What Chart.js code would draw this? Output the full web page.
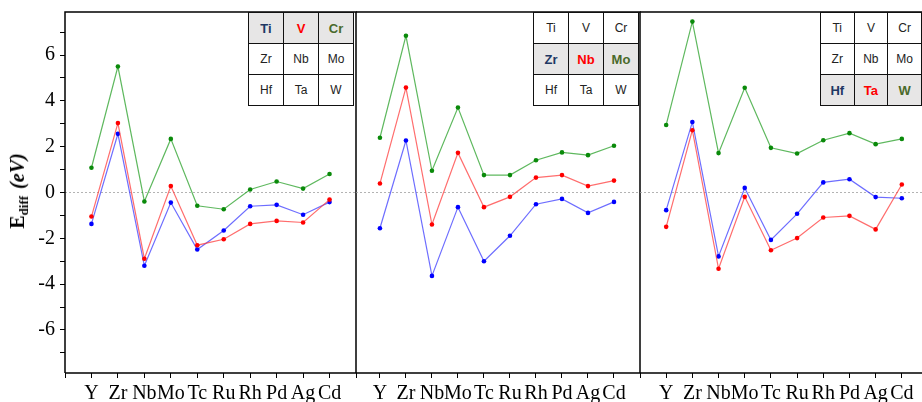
<!DOCTYPE html>
<html>
<head>
<meta charset="utf-8">
<script src="https://cdn.jsdelivr.net/npm/chart.js@4.4.1/dist/chart.umd.min.js"></script>
<style>
  html, body { margin: 0; padding: 0; background: #fff; overflow: hidden; width: 922px; height: 402px; }
  canvas { position: absolute; left: 0; top: 0; }
  .ytitle {
    position: absolute; left: 19px; top: 191px;
    transform: translate(-50%, -50%) rotate(-90deg);
    font-family: "Liberation Serif", serif; font-weight: bold; font-size: 20px;
    white-space: nowrap; color: #000;
  }
  .ytitle sub { font-size: 13px; vertical-align: -4px; }
  .ytitle i { margin-left: 7px; }
  table.inset {
    position: absolute; top: 12px; border-collapse: collapse; background: #fff;
    font-family: "Liberation Sans", Arial, sans-serif; font-size: 12px;
  }
  table.inset td {
    width: 34px; height: 30px; border: 1.5px solid #111; text-align: center; padding: 0; color: #222;
  }
  table.inset tr.hl td { background: #e7e6e6; font-weight: bold; font-size: 13px; }
</style>
</head>
<body>
<canvas id="c1" width="940" height="402"></canvas>
<canvas id="c2" width="940" height="402"></canvas>
<canvas id="c3" width="940" height="402"></canvas>
<div class="ytitle">E<sub>diff</sub><i>(eV)</i></div>

<script>
const categories = ['Y', 'Zr', 'Nb', 'Mo', 'Tc', 'Ru', 'Rh', 'Pd', 'Ag', 'Cd'];
const yTickLabels = [-6, -4, -2, 0, 2, 4, 6];

// panel 1 : Ti / V / Cr
const p1Blue  = [-1.37, 2.56, -3.20, -0.44, -2.49, -1.66, -0.60, -0.54, -0.97, -0.42];
const p1Red   = [-1.05, 3.03, -2.89, 0.28, -2.30, -2.04, -1.37, -1.24, -1.31, -0.31];
const p1Green = [1.08, 5.50, -0.39, 2.34, -0.58, -0.73, 0.13, 0.48, 0.17, 0.81];

// panel 2 : Zr / Nb / Mo
const p2Blue  = [-1.56, 2.27, -3.64, -0.64, -3.00, -1.89, -0.51, -0.28, -0.89, -0.41];
const p2Red   = [0.39, 4.58, -1.40, 1.73, -0.64, -0.19, 0.65, 0.76, 0.28, 0.52];
const p2Green = [2.39, 6.84, 0.95, 3.71, 0.76, 0.76, 1.41, 1.75, 1.63, 2.04];

// panel 3 : Hf / Ta / W
const p3Blue  = [-0.77, 3.08, -2.79, 0.20, -2.07, -0.93, 0.44, 0.58, -0.20, -0.25];
const p3Red   = [-1.50, 2.72, -3.33, -0.19, -2.52, -1.99, -1.09, -1.02, -1.61, 0.35];
const p3Green = [2.95, 7.46, 1.72, 4.57, 1.95, 1.70, 2.28, 2.59, 2.11, 2.34];

const tableRows = [['Ti', 'V', 'Cr'], ['Zr', 'Nb', 'Mo'], ['Hf', 'Ta', 'W']];
const rowColors = ['#1f3864', '#ff0000', '#4a6a2a'];

const W = 940;
const serif = "'Liberation Serif', 'Times New Roman', serif";

const framePlugin = {
    id: 'frame',
    beforeDatasetsDraw(chart) {
        const a = chart.chartArea, ctx = chart.ctx;
        const y0 = chart.scales.y.getPixelForValue(0);
        ctx.save();
        ctx.strokeStyle = '#a0a0a0';
        ctx.lineWidth = 0.8;
        ctx.setLineDash([2, 2]);
        ctx.beginPath();
        ctx.moveTo(a.left, y0);
        ctx.lineTo(a.right, y0);
        ctx.stroke();
        ctx.restore();
    },
    afterDraw(chart, args, opts) {
        const a = chart.chartArea, ctx = chart.ctx;
        ctx.save();
        ctx.strokeStyle = '#000';
        ctx.lineWidth = 1.5;
        ctx.beginPath();
        // the left edge of panels 2 and 3 is the right edge of the panel before
        if (opts.leftEdge) {
            ctx.moveTo(a.left, a.bottom);
            ctx.lineTo(a.left, a.top);
        } else {
            ctx.moveTo(a.left, a.top);
        }
        ctx.lineTo(a.right, a.top);
        ctx.lineTo(a.right, a.bottom);
        ctx.lineTo(a.left, a.bottom);
        ctx.stroke();
        ctx.restore();
    }
};

function series(values, point, line) {
    return {
        data: values.map((v, i) => ({ x: i, y: v })),
        borderColor: line,
        backgroundColor: point,
        pointBackgroundColor: point,
        pointBorderWidth: 0,
        pointRadius: 2.3,
        borderWidth: 1.2,
        tension: 0
    };
}

// no label overflow padding, the layout padding alone places the plot area
function noPad(s) {
    s.paddingLeft = 0; s.paddingRight = 0; s.paddingTop = 0; s.paddingBottom = 0;
}

function makePanel(id, blue, red, green, xMin, padLeft, padRight, showY) {
    return new Chart(document.getElementById(id), {
        type: 'line',
        data: {
            datasets: [
                series(green, '#0a8a0a', 'rgba(40,160,40,0.75)'),
                series(red, '#ff0000', 'rgba(255,60,60,0.75)'),
                series(blue, '#0000ff', 'rgba(60,60,255,0.75)')
            ]
        },
        options: {
            responsive: false,
            animation: false,
            layout: { padding: { top: 12, left: padLeft, right: padRight, bottom: 0 } },
            plugins: {
                legend: { display: false },
                tooltip: { enabled: false },
                frame: { leftEdge: showY }
            },
            scales: {
                x: {
                    type: 'linear',
                    min: xMin,
                    max: 10,
                    afterFit: s => { s.height = 29; noPad(s); },
                    border: { display: false },
                    grid: { drawOnChartArea: false, drawTicks: true, tickLength: 5, color: '#000' },
                    ticks: {
                        stepSize: 1,
                        includeBounds: false,
                        autoSkip: false,
                        maxRotation: 0,
                        padding: 4,
                        color: '#000',
                        font: { family: serif, size: 20 },
                        callback: v => categories[v] || ''
                    }
                },
                y: {
                    display: showY,
                    min: -7.88,
                    max: 7.88,
                    afterFit: s => { s.width = showY ? 65 : 0; noPad(s); },
                    border: { display: false },
                    grid: { drawOnChartArea: false, drawTicks: true, tickLength: 5, color: '#000' },
                    ticks: {
                        stepSize: 1,
                        includeBounds: false,
                        autoSkip: false,
                        padding: 5,
                        color: '#000',
                        font: { family: serif, size: 20 },
                        callback: v => yTickLabels.includes(v) ? String(v) : ''
                    }
                }
            }
        },
        plugins: [framePlugin]
    });
}

makePanel('c1', p1Blue, p1Red, p1Green, -1, 0, W - 356, true);
makePanel('c2', p2Blue, p2Red, p2Green, -0.92, 356, W - 640, false);
makePanel('c3', p3Blue, p3Red, p3Green, -1, 640, W - 928, false);

// inset tables, highlighted row = the series shown in that panel
[[248, 0], [533, 1], [820, 2]].forEach(([left, hl]) => {
    const t = document.createElement('table');
    t.className = 'inset';
    t.style.left = left + 'px';
    tableRows.forEach((row, r) => {
        const tr = document.createElement('tr');
        if (r === hl) tr.className = 'hl';
        row.forEach((name, c) => {
            const td = document.createElement('td');
            td.textContent = name;
            if (r === hl) td.style.color = rowColors[c];
            tr.appendChild(td);
        });
        t.appendChild(tr);
    });
    document.body.appendChild(t);
});
</script>
</body>
</html>
